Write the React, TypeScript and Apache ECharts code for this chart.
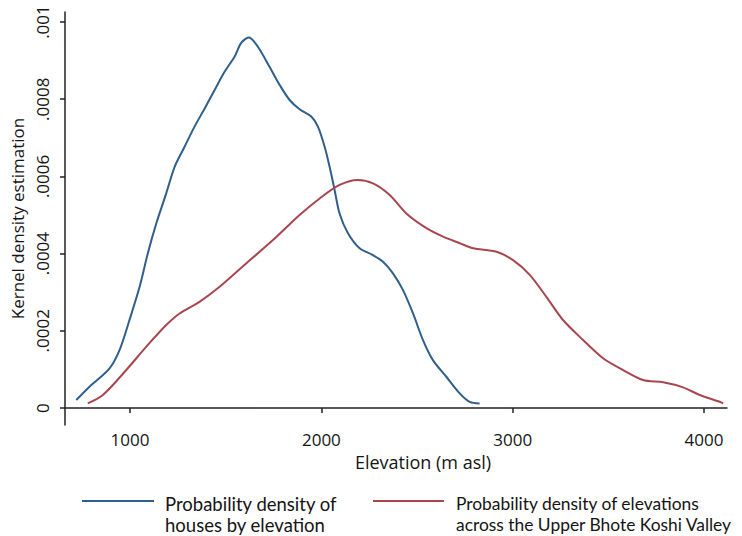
import React, { useEffect, useRef } from "react";
import * as echarts from "echarts";

const housesElev = [719, 788, 893, 945, 997, 1050, 1093, 1137, 1189, 1233, 1285, 1337, 1390, 1442, 1494, 1546, 1581, 1621, 1668, 1729, 1782, 1834, 1886, 1947, 1982, 2017, 2043, 2069, 2095, 2139, 2200, 2270, 2322, 2374, 2426, 2479, 2531, 2583, 2653, 2723, 2775, 2827];
const housesDensity = [0.0000207, 0.0000552, 0.000103, 0.00015, 0.000228, 0.000314, 0.000401, 0.000478, 0.000556, 0.000625, 0.000677, 0.000729, 0.000776, 0.000824, 0.000871, 0.00091, 0.000946, 0.00096, 0.000936, 0.000884, 0.000837, 0.000798, 0.000774, 0.000755, 0.000729, 0.000677, 0.000625, 0.000565, 0.000504, 0.000453, 0.000414, 0.000396, 0.000379, 0.000349, 0.000306, 0.000245, 0.000176, 0.000124, 0.000081, 0.000038, 0.000016, 0.000012];

const valleyElev = [779, 858, 980, 1085, 1189, 1259, 1363, 1468, 1608, 1747, 1886, 1991, 2095, 2191, 2270, 2357, 2444, 2549, 2636, 2723, 2792, 2915, 3002, 3089, 3176, 3263, 3368, 3472, 3577, 3681, 3786, 3890, 3978, 4082, 4100];
const valleyDensity = [0.0000122, 0.0000337, 0.0000984, 0.000159, 0.000215, 0.000245, 0.000275, 0.000314, 0.000375, 0.000435, 0.0005, 0.000543, 0.000578, 0.000591, 0.000582, 0.000552, 0.000504, 0.000466, 0.000444, 0.000427, 0.000414, 0.000405, 0.000383, 0.000345, 0.000288, 0.000228, 0.000176, 0.000129, 0.0000984, 0.0000725, 0.0000666, 0.0000536, 0.0000337, 0.0000163, 0.000012];

const xTicks = [1000, 2000, 3000, 4000];
const xTickLabels = ["1000", "2000", "3000", "4000"];
const yTicks = [0, 0.0002, 0.0004, 0.0006, 0.0008, 0.001];
const yTickLabels = ["0", ".0002", ".0004", ".0006", ".0008", ".001"];
const seriesNames = [
  "Probability density of\nhouses by elevation",
  "Probability density of elevations\nacross the Upper Bhote Koshi Valley",
];
const xTitle = "Elevation (m asl)";
const yTitle = "Kernel density estimation";

const BLUE = "#2f5f8c";
const RED = "#a8464e";
const FONT = "'Open Sans', Lato, sans-serif";
const LEGEND_FONT = "Lato, 'Open Sans', sans-serif";
const TXT = "#141414";

export default function App() {
  const ref = useRef<HTMLDivElement>(null);
  useEffect(() => {
    if (!ref.current) return;
    const chart = echarts.init(ref.current, null, { renderer: "svg" });
    const toPairs = (xs: number[], ys: number[]) => xs.map((x, i) => [x, ys[i]]);
    const pick = (ticks: number[], labels: string[]) => (v: number) => {
      const i = ticks.findIndex((t) => Math.abs(t - v) < 1e-9);
      return i >= 0 ? labels[i] : "";
    };
    chart.setOption({
      animation: false,
      backgroundColor: "#ffffff",
      textStyle: { fontFamily: FONT },
      grid: { left: 65, right: 15, top: 12, bottom: 111, containLabel: false },
      xAxis: {
        type: "value",
        min: 660,
        max: 4120,
        name: xTitle,
        nameLocation: "middle",
        nameGap: 22,
        nameTextStyle: { fontSize: 18, color: TXT, fontFamily: FONT, padding: [0, 0, 0, 54] },
        axisLine: { show: true, lineStyle: { color: "#222", width: 1.5 } },
        axisTick: { show: true, length: 5, lineStyle: { color: "#222", width: 1.5 }, customValues: xTicks },
        axisLabel: {
          fontSize: 17,
          color: TXT,
          margin: 6,
          fontFamily: FONT,
          customValues: xTicks,
          formatter: pick(xTicks, xTickLabels),
        },
        splitLine: { show: false },
      },
      yAxis: {
        type: "value",
        min: -0.000044,
        max: 0.001026,
        name: yTitle,
        nameLocation: "middle",
        nameGap: 37,
        nameTextStyle: { fontSize: 17, color: TXT, fontFamily: FONT },
        axisLine: { show: true, lineStyle: { color: "#222", width: 1.5 } },
        axisTick: { show: true, length: 5, lineStyle: { color: "#222", width: 1.5 }, customValues: yTicks },
        axisLabel: {
          fontSize: 17,
          color: TXT,
          rotate: 90,
          margin: 14,
          fontFamily: FONT,
          customValues: yTicks,
          formatter: pick(yTicks, yTickLabels),
        },
        splitLine: { show: false },
      },
      series: [
        {
          name: seriesNames[0],
          type: "line",
          data: toPairs(housesElev, housesDensity),
          showSymbol: false,
          symbol: "none",
          smooth: 0.3,
          lineStyle: { color: BLUE, width: 2 },
          color: BLUE,
        },
        {
          name: seriesNames[1],
          type: "line",
          data: toPairs(valleyElev, valleyDensity),
          showSymbol: false,
          symbol: "none",
          smooth: 0.3,
          lineStyle: { color: RED, width: 2 },
          color: RED,
        },
      ],
      graphic: [
        { type: "line", shape: { x1: 82, y1: 501, x2: 154, y2: 501 }, style: { stroke: BLUE, lineWidth: 2 } },
        {
          type: "text",
          x: 165,
          y: 493,
          style: { text: seriesNames[0], font: `18.5px ${LEGEND_FONT}`, fill: TXT, lineHeight: 21 },
        },
        { type: "line", shape: { x1: 373, y1: 501, x2: 444, y2: 501 }, style: { stroke: RED, lineWidth: 2 } },
        {
          type: "text",
          x: 456,
          y: 493,
          style: { text: seriesNames[1], font: `17.4px ${LEGEND_FONT}`, fill: TXT, lineHeight: 21 },
        },
      ],
    });
    return () => chart.dispose();
  }, []);
  return <div ref={ref} style={{ width: 742, height: 536, marginLeft: -8, marginTop: -8 }} />;
}
